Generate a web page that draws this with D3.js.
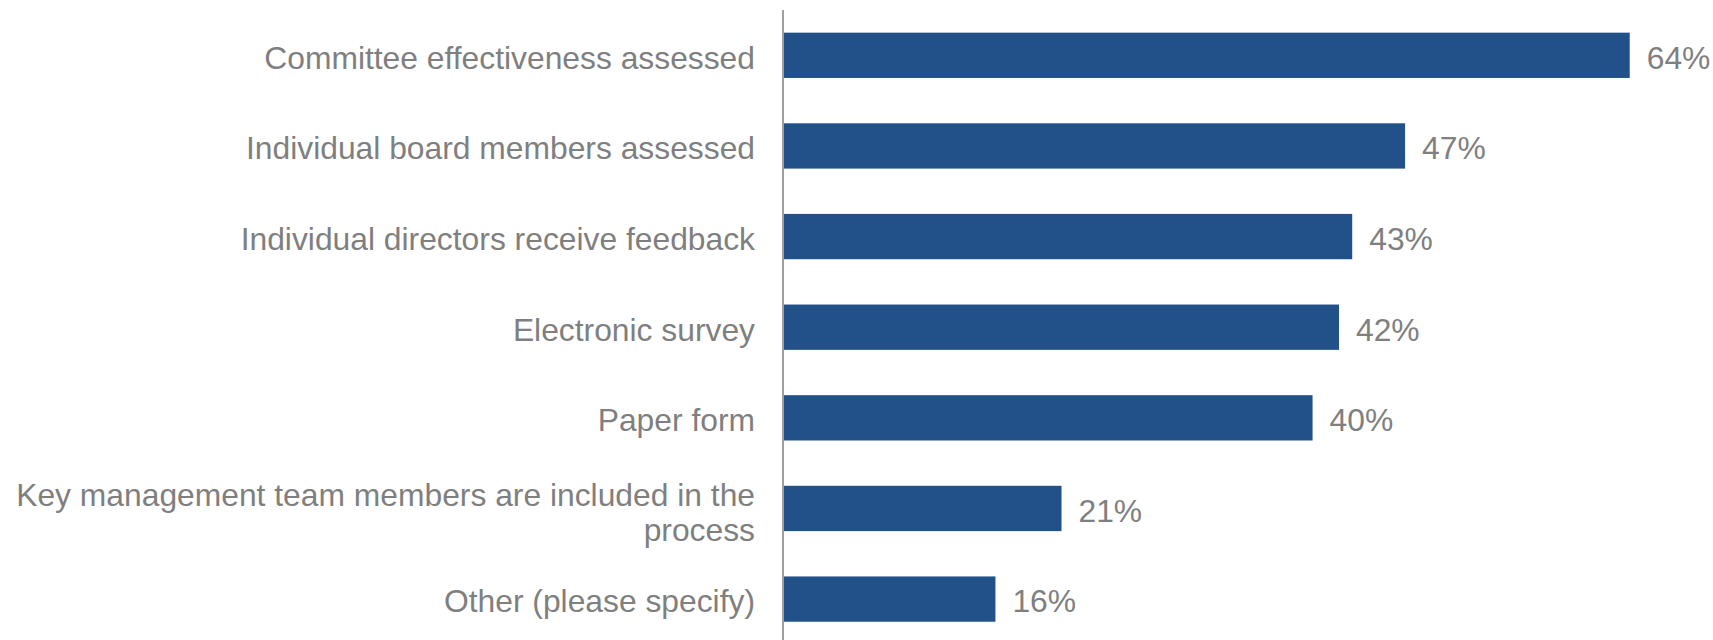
<!DOCTYPE html>
<html>
<head>
<meta charset="utf-8">
<script src="https://cdn.jsdelivr.net/npm/d3@7"></script>
<style>
  html, body { margin: 0; padding: 0; background: #ffffff; }
  svg { display: block; }
  text { font-family: "Liberation Sans", Arial, Helvetica, sans-serif; }
</style>
</head>
<body>
<svg id="chart" width="1713" height="640"></svg>
<script>
// Board evaluation practices, share of respondents
const categories = [
  "Committee effectiveness assessed",
  "Individual board members assessed",
  "Individual directors receive feedback",
  "Electronic survey",
  "Paper form",
  "Key management team members are included in the process",
  "Other (please specify)"
];
const values = [0.64, 0.47, 0.43, 0.42, 0.40, 0.21, 0.16];
const xDomain = [0, 0.70];

const W = 1713, H = 640;
const axisX = 783;
const fontSize = 31.8;
const labelColor = "#7f7f7f";
const barColor = "#22518a";

const svg = d3.select("#chart");

const x = d3.scaleLinear().domain(xDomain).range([axisX + 1, 1709]);
const y = d3.scaleBand()
  .domain(categories)
  .range([10, 644.4])
  .paddingInner(0.5)
  .paddingOuter(0.25);

const fmt = d3.format(".0%");

// bars
svg.append("g")
  .selectAll("rect")
  .data(categories)
  .join("rect")
  .attr("x", x(0))
  .attr("y", d => y(d))
  .attr("width", (d, i) => x(values[i]) - x(0))
  .attr("height", y.bandwidth())
  .attr("fill", barColor);

// value labels
svg.append("g")
  .selectAll("text")
  .data(categories)
  .join("text")
  .attr("x", (d, i) => x(values[i]) + 17)
  .attr("y", d => y(d) + y.bandwidth() / 2 + fontSize * 0.42)
  .attr("font-size", fontSize)
  .attr("fill", labelColor)
  .text((d, i) => fmt(values[i]));

// category axis (vertical line with right-aligned, wrapped labels)
const yAxis = d3.axisLeft(y).tickSize(0).tickPadding(28);
const gAxis = svg.append("g")
  .attr("transform", `translate(${axisX},0)`)
  .call(yAxis);
gAxis.select(".domain").remove();
gAxis.append("line")
  .attr("x1", 0).attr("x2", 0)
  .attr("y1", 10).attr("y2", H)
  .attr("stroke", "#a0a0a0")
  .attr("stroke-width", 2);

const maxLabelWidth = 750;
const lineStep = 34.5;
gAxis.selectAll(".tick text")
  .attr("font-size", fontSize)
  .attr("font-family", "'Liberation Sans', Arial, Helvetica, sans-serif")
  .attr("fill", labelColor)
  .each(function (d) {
    const t = d3.select(this);
    const xPos = t.attr("x");
    const words = d.split(" ");
    t.text(null).attr("dy", null);
    const lines = [];
    let line = [];
    const probe = t.append("tspan");
    words.forEach(w => {
      line.push(w);
      probe.text(line.join(" "));
      if (probe.node().getComputedTextLength() > maxLabelWidth && line.length > 1) {
        line.pop();
        lines.push(line.join(" "));
        line = [w];
      }
    });
    lines.push(line.join(" "));
    probe.remove();
    const first = fontSize * 0.42 - (lines.length - 1) * lineStep / 2 + (lines.length - 1) * 1.5;
    lines.forEach((ln, i) => {
      t.append("tspan")
        .attr("x", xPos)
        .attr("y", first + i * lineStep)
        .text(ln);
    });
  });
</script>
</body>
</html>
